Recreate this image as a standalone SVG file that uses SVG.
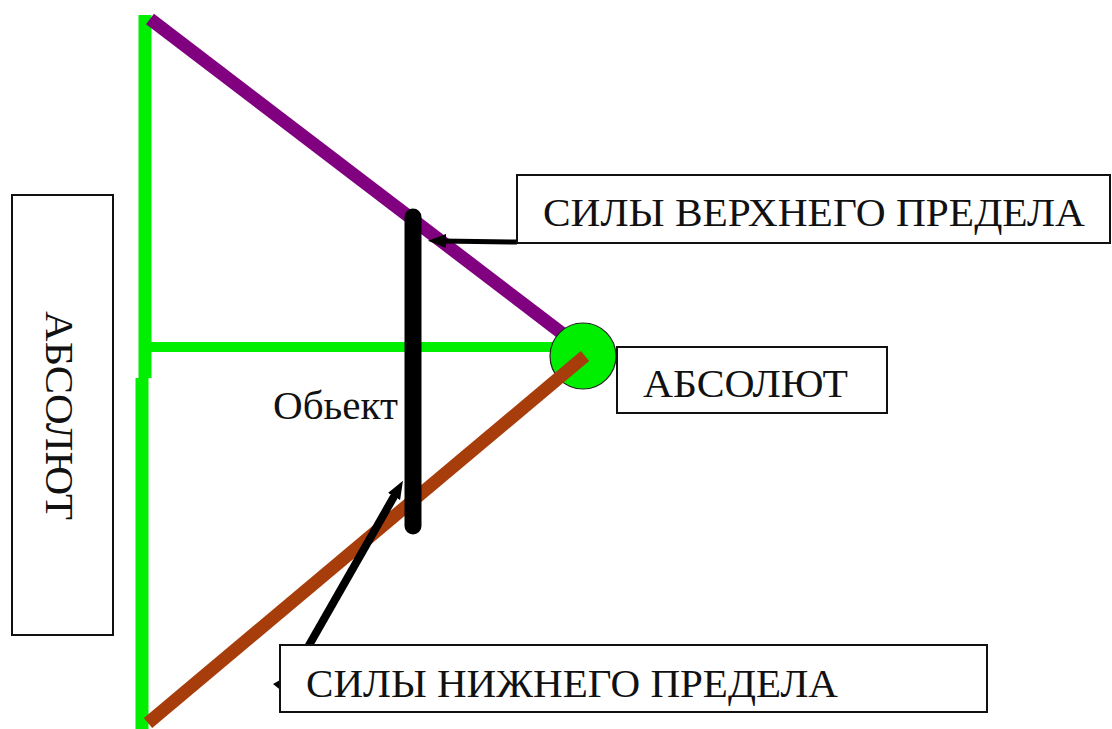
<svg xmlns="http://www.w3.org/2000/svg" width="1112" height="729" viewBox="0 0 1112 729">
<style>
.box{fill:#fff;stroke:#111;stroke-width:2}
.lbl{font-size:40px;fill:#111}
</style>
<defs>
<marker id="ah" markerWidth="18" markerHeight="16" refX="4" refY="8" orient="auto" markerUnits="userSpaceOnUse">
<path d="M0,1 L18,8 L0,15 Z" fill="#000"/>
</marker>
</defs>
<rect width="1112" height="729" fill="#fff"/>
<g id="lines">
<line x1="145" y1="15" x2="145" y2="378" stroke="#00ee00" stroke-width="13"/>
<line x1="142" y1="378" x2="142" y2="729" stroke="#00ee00" stroke-width="13"/>
<line x1="145" y1="347" x2="583" y2="347" stroke="#00ee00" stroke-width="10"/>
<line x1="150" y1="19" x2="576" y2="344" stroke="#800080" stroke-width="13"/>
</g>
<g id="absolute-point">
<circle cx="583" cy="356" r="33" fill="#00ee00" stroke="#222" stroke-width="1.2"/>
</g>
<g id="connectors">
<line x1="148" y1="723" x2="585" y2="356" stroke="#a83d0c" stroke-width="13"/>
<line x1="413" y1="217" x2="413" y2="526" stroke="#000" stroke-width="17" stroke-linecap="round"/>
<line x1="517" y1="242" x2="442" y2="241" stroke="#000" stroke-width="5" marker-end="url(#ah)"/>
<line x1="308" y1="647" x2="396" y2="493" stroke="#000" stroke-width="8" marker-end="url(#ah)"/>
<path d="M273,684 L282,679 L283,692 Z" fill="#000"/>
</g>
<g id="upper-forces">
<rect class="box" x="517" y="175" width="593" height="68"/>
<text class="lbl" font-family="Liberation Serif, Tinos, DejaVu Serif, Times New Roman, serif" x="543" y="226" textLength="542" lengthAdjust="spacingAndGlyphs">СИЛЫ ВЕРХНЕГО ПРЕДЕЛА</text>
</g>
<g id="absolute">
<rect class="box" x="617" y="347" width="270" height="66"/>
<text class="lbl" font-family="Liberation Serif, Tinos, DejaVu Serif, Times New Roman, serif" x="643" y="397" textLength="205" lengthAdjust="spacingAndGlyphs">АБСОЛЮТ</text>
</g>
<g id="lower-forces">
<rect class="box" x="280" y="645" width="707" height="67"/>
<text class="lbl" font-family="Liberation Serif, Tinos, DejaVu Serif, Times New Roman, serif" x="306" y="697" textLength="532" lengthAdjust="spacingAndGlyphs">СИЛЫ НИЖНЕГО ПРЕДЕЛА</text>
</g>
<g id="absolute-left">
<rect class="box" x="12" y="195" width="101" height="440"/>
<text class="lbl" font-family="Liberation Serif, Tinos, DejaVu Serif, Times New Roman, serif" transform="translate(46,311) rotate(90)" textLength="209" lengthAdjust="spacingAndGlyphs">АБСОЛЮТ</text>
</g>
<g id="object">
<text class="lbl" font-family="Liberation Serif, Tinos, DejaVu Serif, Times New Roman, serif" x="273" y="419" font-size="36" textLength="125" lengthAdjust="spacingAndGlyphs">Обьект</text>
</g>
</svg>
